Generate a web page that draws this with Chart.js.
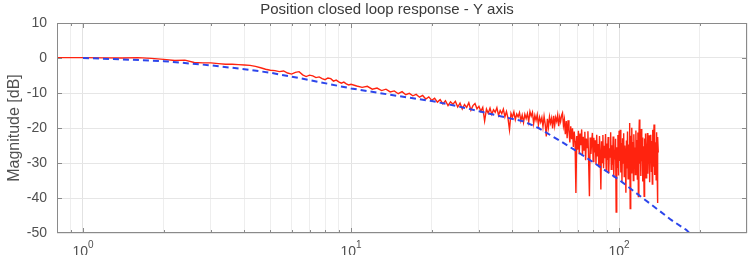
<!DOCTYPE html>
<html><head><meta charset="utf-8">
<script src="https://cdn.jsdelivr.net/npm/chart.js@4/dist/chart.umd.min.js"></script>
<style>html,body{margin:0;padding:0;background:#fff;overflow:hidden}</style>
</head><body>
<canvas id="c" width="753" height="255"></canvas>
<script>
const titleText = 'Position closed loop response - Y axis';
const yAxisTitle = 'Magnitude [dB]';
const xRange = [0.8, 300];
const yRange = [-50, 10];
const xGridValues = [0.8,0.9,1,2,3,4,5,6,7,8,9,10,20,30,40,50,60,70,80,90,100,200,300];
const xMajorValues = [1,10,100];
const xMajorBase = ['10','10','10'];
const xMajorExp = ['0','1','2'];
const yTickValues = [10,0,-10,-20,-30,-40,-50];

const blueFreq = [1,1.5,2,3,4,5,7,10,14,20,25,30,35,44,50,60,68,79,86,100,120,140,156,178,183];
const blueMag  = [0,-0.5,-0.9,-2.1,-3.2,-4.2,-6.3,-8.7,-10.5,-12.3,-13.8,-15.2,-16.4,-18.1,-20.0,-23.6,-26.2,-29.5,-31.4,-34.8,-39.5,-43.4,-46.2,-49.1,-50];

const redFreq = [
0.8,1,1.2,1.4,1.6,1.8,2,2.2,2.4,2.6,
2.8,3,3.2,3.4,3.6,3.8,4,4.2,4.4,4.6,
4.8,5,5.2,5.4,5.6,5.8,6,6.2,6.4,6.6,
6.8,7,7.2,7.4,7.6,7.8,8,8.2,8.4,8.6,
8.8,9,9.2,9.4,9.6,9.8,10,
10.5,11,11.5,12,12.5,13,13.5,14,14.5,15,
15.5,16,16.5,17,17.5,18,18.5,19,19.5,20,
20.5,21,21.5,22,22.5,23,23.5,24,24.5,25,
25.5,26,26.5,27,27.5,28,28.5,29,29.5,30,
30.5,31,31.5,32,32.5,33,33.5,34,34.5,35,
35.5,36,36.5,37,37.5,38,38.5,39,39.5,40,
40.5,41,41.5,42,42.5,43,43.5,44,44.5,45,
45.5,46,46.5,47,47.5,48,48.5,49,49.5,50,
50.5,51,51.5,52,52.5,53,53.5,54,54.5,55,
55.5,56,56.5,57,57.5,58,58.5,59,59.5,60,
60.5,61,61.5,62,62.5,63,63.5,64,64.5,65,
65.5,66,66.5,67,67.5,68,68.5,69,69.5,70,
70.5,71,71.5,72,72.5,73,73.5,74,74.5,75,
75.5,76,76.5,77,77.5,78,78.5,79,79.5,80,
80.5,81,81.5,82,82.5,83,83.5,84,84.5,85,
85.5,86,86.5,87,87.5,88,88.5,89,89.5,90,
90.5,91,91.5,92,92.5,93,93.5,94,94.5,95,
95.5,96,96.5,97,97.5,98,98.5,99,99.5,100,
100.5,101,101.5,102,102.5,103,103.5,104,104.5,105,
105.5,106,106.5,107,107.5,108,108.5,109,109.5,110,
110.5,111,111.5,112,112.5,113,113.5,114,114.5,115,
115.5,116,116.5,117,117.5,118,118.5,119,119.5,120,
120.5,121,121.5,122,122.5,123,123.5,124,124.5,125,
125.5,126,126.5,127,127.5,128,128.5,129,129.5,130,
130.5,131,131.5,132,132.5,133,133.5,134,134.5,135,
135.5,136,136.5,137,137.5,138,138.5,139,139.5,140
];
const redMag = [
0.1,0.1,0.05,0,0.1,-0.1,-0.4,-0.7,-0.6,-1.3,
-1.4,-1.4,-1.6,-1.8,-1.8,-1.9,-2.0,-2.1,-2.4,-2.8,
-3.2,-3.5,-3.6,-3.9,-3.7,-4.3,-4.6,-4.1,-3.9,-4.8,
-5.3,-4.9,-5.1,-5.6,-5.4,-5.9,-6.2,-5.7,-5.9,-6.6,
-6.3,-6.8,-7.2,-6.9,-7.4,-7.7,-7.5,
-8.0,-8.4,-8.1,-8.9,-8.6,-9.3,-8.9,-9.7,-9.4,-10.2,
-9.6,-10.5,-10.1,-10.8,-10.4,-11.2,-10.7,-11.7,-11.1,-12.1,
-11.5,-12.6,-11.9,-13.1,-12.2,-13.6,-12.5,-13.2,-12.4,-14.0,
-12.9,-14.6,-13.3,-14.1,-12.8,-14.9,-13.6,-13.0,-14.5,-13.8,
-15.2,-14.1,-18.0,-14.6,-15.8,-14.3,-16.1,-14.8,-15.5,-14.2,
-16.4,-15.0,-15.9,-14.6,-16.8,-15.3,-17.2,-20.5,-15.8,-16.9,
-15.4,-17.6,-16.0,-16.8,-15.6,-17.9,-16.3,-18.4,-16.1,-17.3,
-15.9,-18.2,-15.3,-16.6,-15.5,-18.7,-16.4,-17.8,-16.2,-19.1,
-16.9,-18.3,-17.0,-19.6,-16.7,-18.9,-22.4,-17.4,-19.8,-16.8,
-18.6,-17.2,-20.1,-16.5,-19.3,-17.0,-18.1,-16.3,-19.5,-16.9,
-18.2,-16.4,-15.7,-19.3,-17.6,-21.8,-18.0,-22.9,-17.8,-20.6,
-24.1,-19.5,-23.2,-20.1,-25.4,-21.0,-23.7,-38.6,-22.3,-26.2,
-20.8,-27.5,-21.6,-24.9,-20.4,-28.0,-22.5,-26.3,-21.1,-29.2,
-23.0,-25.6,-20.9,-30.1,-39.5,-22.7,-27.4,-24.0,-21.4,-29.6,
-22.8,-27.0,-23.5,-30.4,-21.9,-28.1,-24.6,-31.2,-22.3,-27.7,
-37.6,-23.8,-29.9,-22.0,-31.5,-25.1,-28.6,-21.7,-32.0,-24.4,
-29.1,-22.6,-33.0,-25.8,-28.3,-21.2,-31.8,-24.9,-30.5,-22.4,
-34.1,-26.2,-29.0,-23.1,-44.0,-25.5,-31.2,-22.0,-33.6,-20.8,
-29.4,-20.5,-32.7,-24.3,-35.2,-22.9,-30.0,-21.5,-33.9,-25.0,
-28.4,-38.5,-23.6,-31.6,-21.0,-34.5,-24.7,-29.3,-18.6,-43.0,
-22.2,-32.8,-19.9,-30.6,-24.0,-35.0,-21.8,-28.9,-25.6,-33.3,
-20.7,-31.0,-23.4,-34.6,-21.3,-39.6,-22.9,-17.6,-30.2,-24.8,
-33.7,-20.3,-29.5,-22.7,-35.3,-25.2,-30.8,-39.5,-23.0,-31.9,
-21.6,-34.2,-24.5,-28.7,-21.4,-33.1,-26.0,-30.3,-22.1,-35.5,
-24.2,-29.8,-21.9,-32.4,-23.7,-36.0,-20.5,-30.9,-25.3,-19.0,
-33.4,-22.8,-31.3,-24.1,-34.8,-21.2,-30.0,-41.4,-22.6,-27.0
];

const FONT = '"Liberation Sans", Arial, Helvetica, sans-serif';
const axisColor = '#8a8a8a';
const textColor = '#505050';

const toPts = (xs, ys) => xs.map((v, i) => ({x: v, y: ys[i]}));

const framePlugin = {
  id: 'frame',
  afterDraw(chart) {
    const {ctx, chartArea: a, scales: {x, y}} = chart;
    ctx.save();
    ctx.strokeStyle = axisColor;
    ctx.lineWidth = 1;
    ctx.beginPath();
    xGridValues.forEach(v => {
      if (v <= xRange[0] || v >= xRange[1]) return;
      const p = Math.round(x.getPixelForValue(v)) + 0.5;
      const len = xMajorValues.includes(v) ? 5 : 3;
      ctx.moveTo(p, a.bottom); ctx.lineTo(p, a.bottom - len);
      ctx.moveTo(p, a.top); ctx.lineTo(p, a.top + len);
    });
    yTickValues.forEach(v => {
      if (v <= yRange[0] || v >= yRange[1]) return;
      const p = Math.round(y.getPixelForValue(v)) + 0.5;
      ctx.moveTo(a.left, p); ctx.lineTo(a.left + 5, p);
      ctx.moveTo(a.right, p); ctx.lineTo(a.right - 5, p);
    });
    ctx.stroke();
    ctx.strokeRect(a.left + 0.5, a.top + 0.5, a.right - a.left - 1, a.bottom - a.top - 1);

    // x tick labels with exponents
    ctx.fillStyle = textColor;
    ctx.textBaseline = 'alphabetic';
    ctx.textAlign = 'left';
    xMajorValues.forEach((v, i) => {
      const p = x.getPixelForValue(v);
      ctx.font = '14px ' + FONT;
      const wb = ctx.measureText(xMajorBase[i]).width;
      ctx.font = '10px ' + FONT;
      const we = ctx.measureText(xMajorExp[i]).width;
      const x0 = p - (wb + we) / 2;
      ctx.font = '14px ' + FONT;
      ctx.fillText(xMajorBase[i], x0, 256);
      ctx.font = '10px ' + FONT;
      ctx.fillText(xMajorExp[i], x0 + wb, 248);
    });

    // title
    ctx.font = '15px ' + FONT;
    ctx.fillStyle = '#3a3a3a';
    ctx.textAlign = 'center';
    ctx.textBaseline = 'middle';
    ctx.fillText(titleText, 387, 10);
    ctx.restore();
  }
};

new Chart(document.getElementById('c'), {
  type: 'line',
  data: {
    datasets: [
      {
        label: 'model',
        data: toPts(blueFreq, blueMag),
        borderColor: 'rgb(45,70,235)',
        borderWidth: 2,
        borderDash: [6, 4],
        pointRadius: 0,
        tension: 0,
        fill: false
      },
      {
        label: 'measured',
        data: toPts(redFreq, redMag),
        borderColor: 'rgb(255,35,15)',
        borderWidth: 1.4,
        pointRadius: 0,
        tension: 0,
        fill: false
      }
    ]
  },
  options: {
    responsive: false,
    animation: false,
    devicePixelRatio: 1,
    layout: {padding: {top: 23, right: 6, bottom: 0, left: 0}},
    plugins: {legend: {display: false}, tooltip: {enabled: false}, title: {display: false}},
    scales: {
      x: {
        type: 'logarithmic',
        min: xRange[0], max: xRange[1],
        afterBuildTicks: s => { s.ticks = xGridValues.map(v => ({value: v})); },
        afterFit: s => { s.height = 22; },
        ticks: {display: false},
        grid: {
          drawTicks: false,
          color: c => xMajorValues.includes(c.tick && c.tick.value) ? '#e2e2e2' : '#eeeeee',
          lineWidth: 1
        },
        border: {display: false}
      },
      y: {
        type: 'linear',
        min: yRange[0], max: yRange[1],
        afterBuildTicks: s => { s.ticks = yTickValues.map(v => ({value: v})); },
        afterFit: s => { s.width = 57; },
        ticks: {color: textColor, font: {family: FONT, size: 14}, padding: 10, callback: v => String(v)},
        grid: {drawTicks: false, color: '#e6e6e6', lineWidth: 1},
        border: {display: false},
        title: {display: true, text: yAxisTitle, color: textColor, font: {family: FONT, size: 16}, padding: {top: 5, bottom: 0}}
      }
    }
  },
  plugins: [framePlugin]
});
</script>
</body></html>
